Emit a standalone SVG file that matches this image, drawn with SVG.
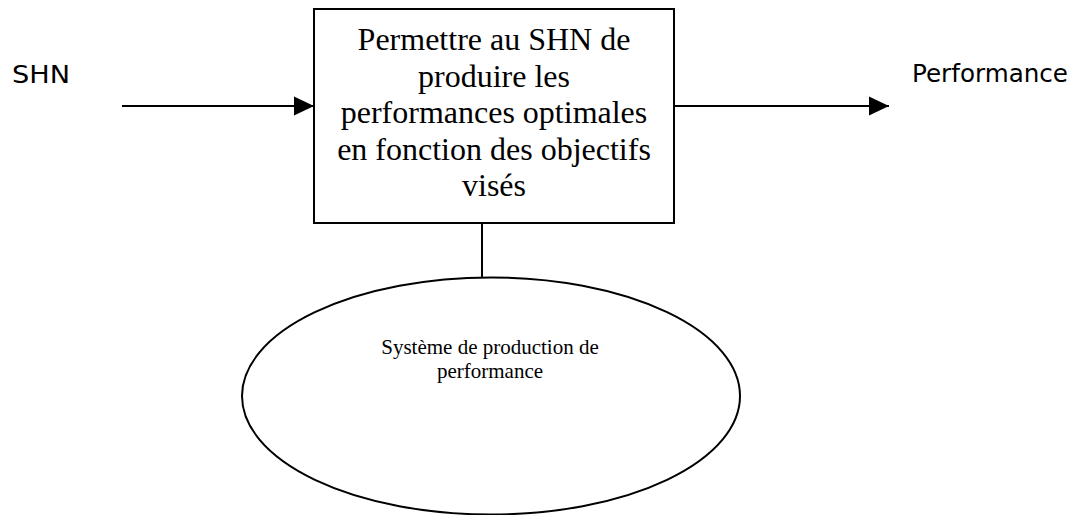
<svg xmlns="http://www.w3.org/2000/svg" width="1079" height="515" viewBox="0 0 1079 515">
<style>
.ln{stroke:#000;stroke-width:2;fill:none}
.shape{stroke:#000;stroke-width:2;fill:#fff}
.lbl{font-family:"DejaVu Sans",sans-serif;font-size:24px;fill:#000}
.box{font-family:"Liberation Serif","Times New Roman",serif;font-size:32px;fill:#000;text-anchor:middle}
.ell{font-family:"Liberation Serif","Times New Roman",serif;font-size:21px;fill:#000;text-anchor:middle}
</style>
<defs>
<marker id="arr" markerUnits="userSpaceOnUse" markerWidth="20" markerHeight="20" refX="20" refY="10" orient="auto">
<path d="M0,0.5 L20,10 L0,19.5 Z" fill="#000"/>
</marker>
</defs>
<rect width="1079" height="515" fill="#fff"/>
<g id="connectors">
<line class="ln" x1="122" y1="106" x2="314" y2="106" marker-end="url(#arr)"/>
<line class="ln" x1="674" y1="106" x2="889" y2="106" marker-end="url(#arr)"/>
<line class="ln" x1="482" y1="223" x2="482" y2="277"/>
</g>
<g id="label-shn">
<text class="lbl" x="12" y="83" textLength="58" lengthAdjust="spacingAndGlyphs">SHN</text>
</g>
<g id="label-performance">
<text class="lbl" x="912" y="82" textLength="156" lengthAdjust="spacingAndGlyphs">Performance</text>
</g>
<g id="node-main">
<rect class="shape" x="314" y="9" width="360" height="214"/>
<text class="box" x="494" y="50">Permettre au SHN de</text>
<text class="box" x="494" y="86.5">produire les</text>
<text class="box" x="494" y="123">performances optimales</text>
<text class="box" x="494" y="159.5">en fonction des objectifs</text>
<text class="box" x="494" y="196">visés</text>
</g>
<g id="node-system">
<ellipse class="shape" cx="491" cy="396" rx="249" ry="118.5"/>
<text class="ell" x="490" y="354">Système de production de</text>
<text class="ell" x="490" y="378">performance</text>
</g>
</svg>
